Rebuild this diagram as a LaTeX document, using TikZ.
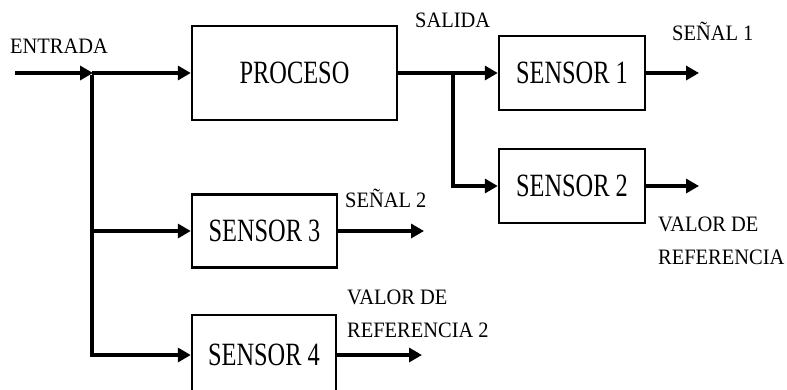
\documentclass[tikz,border=0pt]{standalone}
\usepackage{fontspec}
\usetikzlibrary{arrows.meta}
\newfontfamily\boxfont[FakeStretch=0.75]{Liberation Serif}
\newfontfamily\labelfont[FakeStretch=0.93]{Liberation Serif}
\begin{document}
\begin{tikzpicture}[x=1pt,y=-1pt,
  block/.style={draw=black,line width=2.4pt,inner sep=0pt,anchor=center,
    font=\boxfont\fontsize{32.5}{32.5}\selectfont},
  sig/.style={line width=3.5pt,-{Triangle[length=13pt,width=14pt]}},
  wire/.style={line width=3.5pt},
  lbl/.style={inner sep=0pt,anchor=base west,align=left,
    font=\labelfont\fontsize{22}{33}\selectfont}]
\useasboundingbox (0,0) rectangle (787,389);
% blocks
\node[block,minimum width=205pt,minimum height=94pt] (proc) at (294.5,73) {PROCESO};
\node[block,minimum width=146pt,minimum height=74pt] (s1) at (572,73) {SENSOR 1};
\node[block,minimum width=146pt,minimum height=74pt] (s2) at (572,186) {SENSOR 2};
\node[block,minimum width=145pt,minimum height=73pt] (s3) at (264.5,231) {SENSOR 3};
\node[block,minimum width=144pt,minimum height=80pt] (s4) at (264,355) {SENSOR 4};
% junctions and free ends
\coordinate (in) at (15,73);
\coordinate (j1) at (92,73);
\coordinate (j3) at (92,231);
\coordinate (j4) at (92,355);
\coordinate (j2) at (453,73);
\coordinate (j2b) at (453,186);
\coordinate (o1) at (699,73);
\coordinate (o2) at (699,186);
\coordinate (o3) at (424,231);
\coordinate (o4) at (422,355);
% connectors
\draw[sig] (in) -- ([xshift=1pt]j1);
\draw[sig] (j1) -- (proc.west);
\draw[wire] ([yshift=-1.75pt]j1) -- ([yshift=1.75pt]j4);
\draw[sig] ([xshift=-1.75pt]j3) -- (s3.west);
\draw[sig] ([xshift=-1.75pt]j4) -- (s4.west);
\draw[sig] (proc.east) -- (s1.west);
\draw[wire] ([yshift=-1.75pt]j2) -- ([yshift=1.75pt]j2b);
\draw[sig] ([xshift=-1.75pt]j2b) -- (s2.west);
\draw[sig] (s1.east) -- (o1);
\draw[sig] (s2.east) -- (o2);
\draw[sig] (s3.east) -- (o3);
\draw[sig] (s4.east) -- (o4);
% labels (multi-line nodes sit on the baseline of their last line)
\node[lbl] (lin) at (10,53) {ENTRADA};
\node[lbl] (lout) at (415,27) {SALIDA};
\node[lbl] (l1) at (672,40) {SEÑAL 1};
\node[lbl] (l2) at (345,207) {SEÑAL 2};
\node[lbl] (lr1) at (658,264) {VALOR DE\\REFERENCIA};
\node[lbl] (lr2) at (347,337) {VALOR DE\\REFERENCIA 2};
\end{tikzpicture}
\end{document}
